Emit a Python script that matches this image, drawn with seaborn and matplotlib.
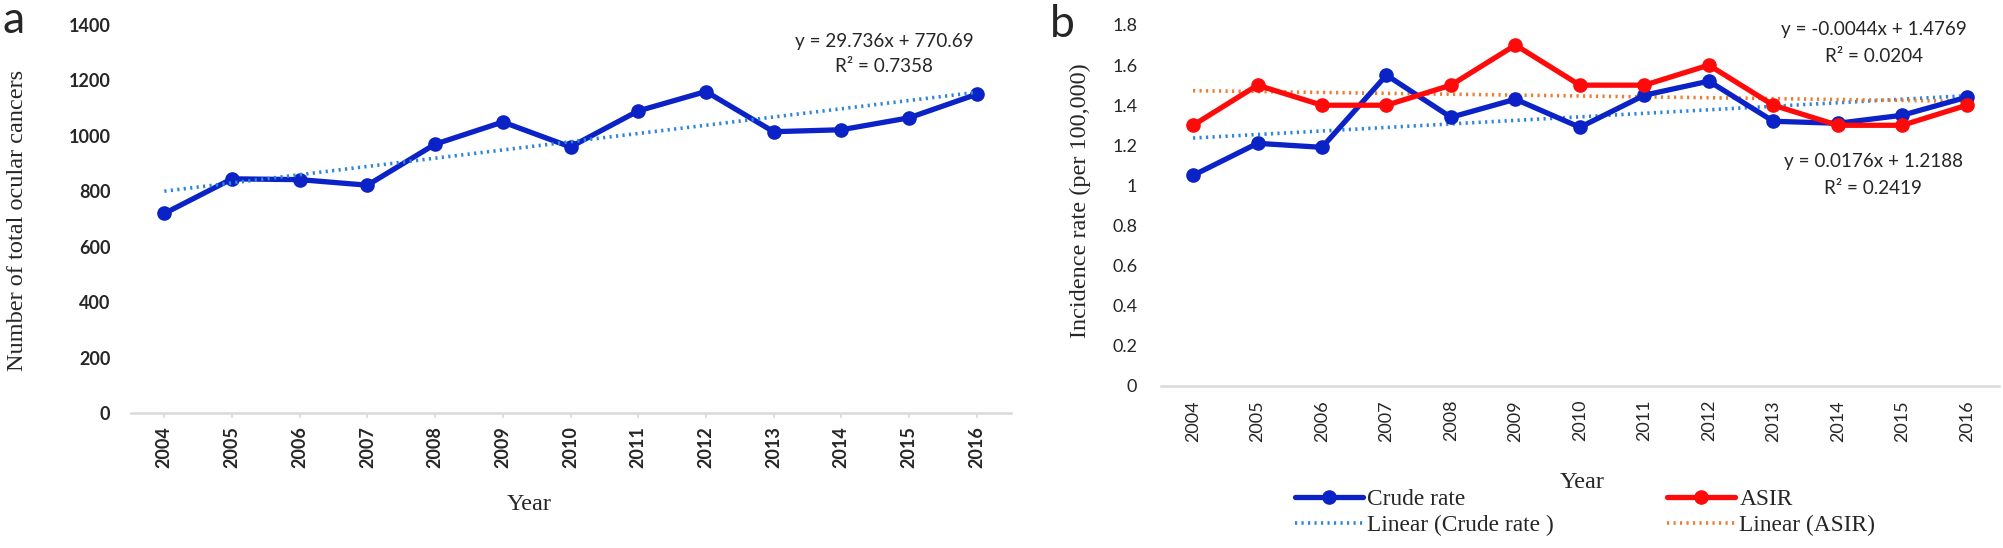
import numpy as np
import pandas as pd
import matplotlib
matplotlib.use("Agg")
import matplotlib.pyplot as plt
import seaborn as sns

# ---------------- data ----------------
years = [2004, 2005, 2006, 2007, 2008, 2009, 2010, 2011, 2012, 2013, 2014, 2015, 2016]
total_cancers = [720, 845, 842, 822, 970, 1050, 960, 1090, 1160, 1015, 1022, 1065, 1150]
crude_rate = [1.05, 1.21, 1.19, 1.55, 1.34, 1.43, 1.29, 1.45, 1.52, 1.32, 1.31, 1.35, 1.44]
asir = [1.3, 1.5, 1.4, 1.4, 1.5, 1.7, 1.5, 1.5, 1.6, 1.4, 1.3, 1.3, 1.4]

# trend lines as stated on the chart (x = 1..13)
trend_a = (29.736, 770.69)
trend_crude = (0.0176, 1.2188)
trend_asir = (-0.0044, 1.4769)
eq_a = ["y = 29.736x + 770.69", "R² = 0.7358"]
eq_asir = ["y = -0.0044x + 1.4769", "R² = 0.0204"]
eq_crude = ["y = 0.0176x + 1.2188", "R² = 0.2419"]
yticks_a = [0, 200, 400, 600, 800, 1000, 1200, 1400]
yticks_b = [0, 0.2, 0.4, 0.6, 0.8, 1, 1.2, 1.4, 1.6, 1.8]
ytick_labels_b = ["0", "0.2", "0.4", "0.6", "0.8", "1", "1.2", "1.4", "1.6", "1.8"]

# ---------------- style ----------------
sns.set_theme(style="white")
plt.rcParams["font.family"] = ["Lato", "DejaVu Sans"]

W, H = 2003, 548
fig = plt.figure(figsize=(W / 100, H / 100), dpi=100)

def fx(px):
    return px / W

def fy(py):
    return 1 - py / H

BLUE = "#0A22C6"
RED = "#FF0A0A"
TBLUE = "#2E86D8"
TORANGE = "#ED7D31"
AXGRAY = "#D9D9D9"
SERIF = ["Liberation Serif", "DejaVu Serif"]

x_idx = np.arange(1, len(years) + 1)
df = pd.DataFrame({"year": years, "total": total_cancers, "crude": crude_rate, "asir": asir,
                   "tr_a": trend_a[0] * x_idx + trend_a[1],
                   "tr_crude": trend_crude[0] * x_idx + trend_crude[1],
                   "tr_asir": trend_asir[0] * x_idx + trend_asir[1]})

# ---------------- panel a ----------------
ax1 = fig.add_axes([fx(130.5), fy(413), fx(1010.5) - fx(130.5), fy(25) - fy(413)])
sns.lineplot(data=df, x="year", y="total", ax=ax1, color=BLUE, lw=3.8, marker="o",
             markersize=9.5, markeredgecolor=BLUE, markeredgewidth=1)
sns.lineplot(data=df, x="year", y="tr_a", ax=ax1, color=TBLUE, lw=2.6, linestyle=(0, (0.6, 1.2)))
ax1.set_xlim(2003.5, 2016.5)
ax1.set_ylim(0, 1400)
ax1.set_yticks(yticks_a)
ax1.set_yticklabels([str(v) for v in yticks_a], fontsize=13, fontweight="bold")
ax1.set_xticks(years)
ax1.set_xticklabels([str(y) for y in years], rotation=90, fontsize=13, fontweight="bold")
ax1.tick_params(axis="y", length=0, pad=14.5)
ax1.tick_params(axis="x", length=3.5, width=1.2, color=AXGRAY, pad=6, bottom=True)
ax1.set_xlabel("")
ax1.set_ylabel("")
for s in ["top", "right", "left"]:
    ax1.spines[s].set_visible(False)
ax1.spines["bottom"].set_color(AXGRAY)
ax1.spines["bottom"].set_linewidth(1.8)
ax1.set_facecolor("none")

fig.text(fx(884), fy(41.7), eq_a[0], ha="center", va="center", fontsize=13.6)
fig.text(fx(884), fy(66.7), eq_a[1], ha="center", va="center", fontsize=13.6)
fig.text(fx(18), fy(220), "Number of total ocular cancers", rotation=90, ha="center",
         va="center", fontsize=17.5, family=SERIF)
fig.text(fx(529), fy(505), "Year", ha="center", va="center", fontsize=17.5, family=SERIF)
fig.text(fx(3), fy(33), "a", ha="left", va="baseline", fontsize=32)

# ---------------- panel b ----------------
ax2 = fig.add_axes([fx(1160.8), fy(386), fx(1999) - fx(1160.8), fy(25) - fy(386)])
sns.lineplot(data=df, x="year", y="tr_crude", ax=ax2, color=TBLUE, lw=2.6,
             linestyle=(0, (0.6, 1.2)), label="Linear (Crude rate )")
sns.lineplot(data=df, x="year", y="tr_asir", ax=ax2, color=TORANGE, lw=2.6,
             linestyle=(0, (0.6, 1.2)), label="Linear (ASIR)")
sns.lineplot(data=df, x="year", y="crude", ax=ax2, color=BLUE, lw=3.8, marker="o",
             markersize=9.5, markeredgecolor=BLUE, markeredgewidth=1, label="Crude rate")
sns.lineplot(data=df, x="year", y="asir", ax=ax2, color=RED, lw=3.8, marker="o",
             markersize=9.5, markeredgecolor=RED, markeredgewidth=1, label="ASIR")
ax2.set_xlim(2003.5, 2016.5)
ax2.set_ylim(0, 1.8)
ax2.set_yticks(yticks_b)
ax2.set_yticklabels(ytick_labels_b, fontsize=13)
ax2.set_xticks(years)
ax2.set_xticklabels([str(y) for y in years], rotation=90, fontsize=13)
ax2.tick_params(axis="y", length=0, pad=17)
ax2.tick_params(axis="x", length=0, pad=10)
ax2.set_xlabel("")
ax2.set_ylabel("")
for s in ["top", "right", "left"]:
    ax2.spines[s].set_visible(False)
ax2.spines["bottom"].set_color(AXGRAY)
ax2.spines["bottom"].set_linewidth(1.8)
ax2.set_facecolor("none")

handles, labels = ax2.get_legend_handles_labels()
hmap = dict(zip(labels, handles))
ax2.get_legend().remove()

leg_kw = dict(frameon=False, handlelength=2.9, handletextpad=0.2,
              labelspacing=0.2, borderpad=0, borderaxespad=0, loc="upper left",
              prop={"family": SERIF, "size": 16.8})
leg1 = fig.legend([hmap["Crude rate"], hmap["Linear (Crude rate )"]],
                  ["Crude rate", "Linear (Crude rate )"],
                  bbox_to_anchor=(fx(1295), fy(489)), **leg_kw)
leg2 = fig.legend([hmap["ASIR"], hmap["Linear (ASIR)"]],
                  ["ASIR", "Linear (ASIR)"],
                  bbox_to_anchor=(fx(1667), fy(489)), **leg_kw)

fig.text(fx(1874), fy(30), eq_asir[0], ha="center", va="center", fontsize=13.6)
fig.text(fx(1874), fy(57), eq_asir[1], ha="center", va="center", fontsize=13.6)
fig.text(fx(1873), fy(162), eq_crude[0], ha="center", va="center", fontsize=13.6)
fig.text(fx(1873), fy(188), eq_crude[1], ha="center", va="center", fontsize=13.6)
fig.text(fx(1080), fy(201), "Incidence rate (per 100,000)", rotation=90, ha="center",
         va="center", fontsize=17.5, family=SERIF)
fig.text(fx(1582), fy(482), "Year", ha="center", va="center", fontsize=17.5, family=SERIF)
fig.text(fx(1050), fy(37), "b", ha="left", va="baseline", fontsize=32)

fig.savefig("out.png", dpi=100, facecolor="white")
